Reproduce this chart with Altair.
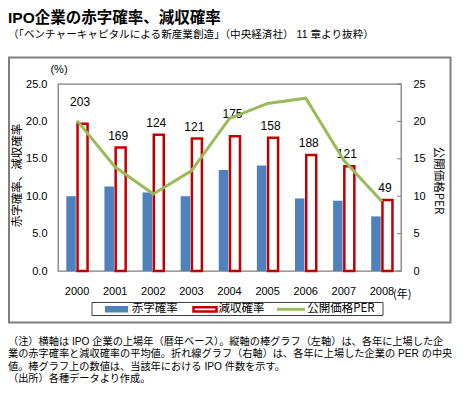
import altair as alt
import pandas as pd

# ---------------- data ----------------
years = ["2000", "2001", "2002", "2003", "2004", "2005", "2006", "2007", "2008"]
deficit_rate = [10.0, 11.3, 10.5, 10.0, 13.5, 14.1, 9.7, 9.4, 7.3]      # 赤字確率 (%)
decline_rate = [19.7, 16.5, 18.2, 17.7, 18.0, 17.8, 15.5, 14.0, 9.5]    # 減収確率 (%)
ipo_per = [20.1, 13.9, 10.3, 13.4, 20.4, 22.4, 23.1, 14.8, 9.3]         # 公開価格PER
ipo_counts = [203, 169, 124, 121, 175, 158, 188, 121, 49]
labels_above_line = ["2000", "2004"]
series_names = ["赤字確率", "減収確率", "公開価格PER"]
axis_ticks = [0, 5, 10, 15, 20, 25]

title_text = "IPO企業の赤字確率、減収確率"
subtitle_text = "（「ベンチャーキャピタルによる新産業創造」（中央経済社） 11 章より抜粋）"
left_title = "赤字確率、減収確率"
right_title = "公開価格PER"
notes = [
    "（注）横軸は IPO 企業の上場年（暦年ベース）。縦軸の棒グラフ（左軸）は、各年に上場した企",
    "業の赤字確率と減収確率の平均値。折れ線グラフ（右軸）は、各年に上場した企業の PER の中央",
    "値。棒グラフ上の数値は、当該年における IPO 件数を示す。",
    "（出所）各種データより作成。",
]

BLUE = "#4F81BD"
RED = "#C00000"
GREEN = "#9BBB59"
GRAY = "#7F7F7F"
JP = "Noto Sans CJK JP"
MIX = "Liberation Sans, 'Noto Sans CJK JP'"
LAT = "Liberation Sans"

df = pd.DataFrame({
    "year": years,
    "deficit": deficit_rate,
    "decline": decline_rate,
    "per": ipo_per,
    "count": ipo_counts,
})
ticks_df = pd.DataFrame({"v": axis_ticks})
one = pd.DataFrame({"k": [0]})

W, H = 343, 187

x_enc = alt.X(
    "year:N",
    scale=alt.Scale(domain=years, paddingInner=0, paddingOuter=0),
    axis=alt.Axis(title=None, labelAngle=0, ticks=False, domain=False,
                  labelPadding=14, labelFont=LAT, labelFontSize=11,
                  labelColor="black"),
)
left_axis = alt.Axis(title=None, values=axis_ticks, format=".1f", ticks=False,
                     domain=False, grid=False, labelPadding=11, labelFont=LAT,
                     labelFontSize=11, labelColor="black")
right_axis = alt.Axis(title=None, values=axis_ticks, format="d", ticks=False,
                      domain=False, grid=False, orient="right", labelPadding=12,
                      labelFont=LAT, labelFontSize=11, labelColor="black")
yscale = alt.Scale(domain=[0, 25], nice=False)

base = alt.Chart(df)

blue_bars = base.mark_bar(color=BLUE, width=9.5, xOffset=-6).encode(
    x=x_enc, y=alt.Y("deficit:Q", scale=yscale, axis=left_axis))
red_bars = base.mark_bar(fill="white", stroke=RED, strokeWidth=2.5, width=10,
                         xOffset=5.5).encode(
    x=x_enc, y=alt.Y("decline:Q", scale=yscale, axis=left_axis))
count_labels = base.transform_filter(
    alt.FieldOneOfPredicate(field="year", oneOf=labels_above_line), empty=False
).mark_text(font=LAT, fontSize=12, color="black", dx=3, dy=-22,
            baseline="middle").encode(
    x=x_enc, y=alt.Y("decline:Q", scale=yscale, axis=left_axis),
    text="count:Q")
count_labels2 = base.transform_filter(
    ~alt.FieldOneOfPredicate(field="year", oneOf=labels_above_line)
).mark_text(font=LAT, fontSize=12, color="black", dx=3, dy=-12,
            baseline="middle").encode(
    x=x_enc, y=alt.Y("decline:Q", scale=yscale, axis=left_axis),
    text="count:Q")

left_group = alt.layer(blue_bars, red_bars, count_labels, count_labels2)

per_line = base.mark_line(color=GREEN, strokeWidth=3).encode(
    x=x_enc, y=alt.Y("per:Q", scale=yscale, axis=right_axis))
right_ticks = alt.Chart(ticks_df).mark_rule(color=GRAY, strokeWidth=1).encode(
    x=alt.value(W - 4), x2=alt.value(W),
    y=alt.Y("v:Q", scale=yscale, axis=right_axis))
right_group = alt.layer(per_line, right_ticks)


def text_at(s, x, y, size, font=JP, align="left", angle=0, weight="normal",
            line_height=None):
    kw = {}
    if line_height is not None:
        kw["lineHeight"] = line_height
    return alt.Chart(one).mark_text(
        text=s, font=font, fontSize=size, align=align, baseline="middle",
        angle=angle, fontWeight=weight, color="black", **kw
    ).encode(x=alt.value(x), y=alt.value(y))


decor = []
# outer chart frame
decor.append(alt.Chart(one).mark_rect(fill=None, stroke=GRAY, strokeWidth=2).encode(
    x=alt.value(-49), x2=alt.value(392.5), y=alt.value(-26.5), y2=alt.value(238.5)))
# titles
decor.append(text_at(title_text, -50, -66, 15.5, font=MIX, weight="bold"))
decor.append(text_at(subtitle_text, -50, -49, 10.6, font=MIX))
decor.append(text_at("(%)", 1, -14, 11, font=LAT, align="center"))
decor.append(text_at(left_title, -40, H / 2 - 2, 11.5, align="center", angle=270))
decor.append(text_at(right_title, 380, H / 2 + 3, 11.5, align="center", angle=90))
decor.append(text_at("(年)", 335, 211, 11, font=JP))
# legend
decor.append(alt.Chart(one).mark_rect(fill="white", stroke="#404040", strokeWidth=1).encode(
    x=alt.value(34), x2=alt.value(325), y=alt.value(218.5), y2=alt.value(231.5)))
decor.append(alt.Chart(one).mark_rect(fill=BLUE).encode(
    x=alt.value(47), x2=alt.value(70), y=alt.value(222), y2=alt.value(228.5)))
decor.append(alt.Chart(one).mark_rect(fill="white", stroke=RED, strokeWidth=2.5).encode(
    x=alt.value(135.5), x2=alt.value(158.5), y=alt.value(223.2), y2=alt.value(227.5)))
decor.append(alt.Chart(one).mark_rule(color=GREEN, strokeWidth=3).encode(
    x=alt.value(219), x2=alt.value(247), y=alt.value(225.3)))
for name, lx in zip(series_names, [73.7, 160.5, 249.3]):
    decor.append(text_at(name, lx, 225, 11.5))
# footnotes (one multi-line text block; first line centred at y)
decor.append(text_at(notes, -50, 257.7, 10.2, font=MIX, line_height=12.6))

chart = alt.layer(left_group, right_group, *decor).resolve_scale(
    y="independent"
).properties(
    width=W, height=H,
    padding={"left": 50, "top": 76, "right": 66, "bottom": 117},
    autosize=alt.AutoSizeParams(type="none"),
    background="white",
).configure_view(stroke=GRAY, strokeWidth=1.3)

chart.save("out.html", embed_options={"renderer": "svg", "actions": False})
